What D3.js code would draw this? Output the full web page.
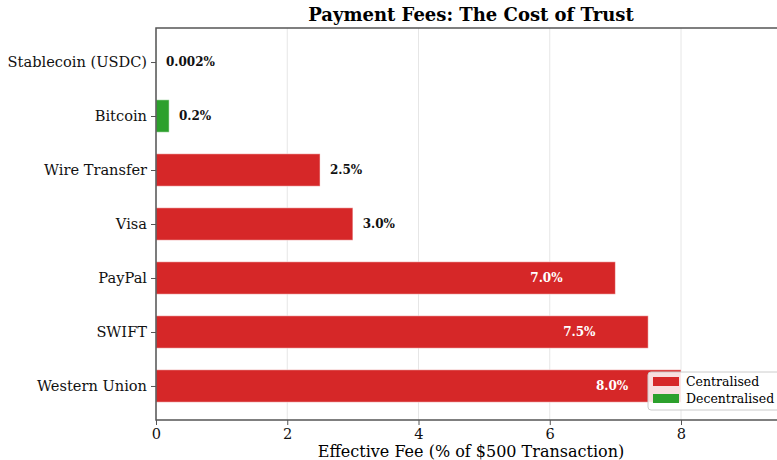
<!DOCTYPE html>
<meta charset="utf-8">
<style>
body { margin: 0; background: #fff; }
svg { font-family: "DejaVu Serif", serif; display: block; }
.grid line { stroke: #e6e6e6; stroke-width: 1; }
.axis path, .axis line { stroke: #555; }
.axis text { fill: #111; font-size: 14.6px; font-family: "DejaVu Serif", serif; }
</style>
<body>
<script src="https://cdn.jsdelivr.net/npm/d3@7"></script>
<script>

var methods = ["Stablecoin (USDC)", "Bitcoin", "Wire Transfer", "Visa", "PayPal", "SWIFT", "Western Union"];
var fees = [0.002, 0.2, 2.5, 3.0, 7.0, 7.5, 8.0];
var feeLabels = ["0.002%", "0.2%", "2.5%", "3.0%", "7.0%", "7.5%", "8.0%"];
var kinds = ["Decentralised", "Decentralised", "Centralised", "Centralised", "Centralised", "Centralised", "Centralised"];
var xTicks = [0, 2, 4, 6, 8];

var colors = { "Centralised": "#d62728", "Decentralised": "#2ca02c" };

var W = 777, H = 460;
var margin = {top: 28, left: 156, bottom: 40};
var plotRight = 786;   // axes run a little past the window edge
var plotBottom = H - margin.bottom;

var svg = d3.select("body").append("svg")
    .attr("width", W)
    .attr("height", H);

var x = d3.scaleLinear()
    .domain([0, 9.6])
    .range([margin.left, plotRight]);

// index 0 at top, like an inverted matplotlib axis
var y = d3.scaleLinear()
    .domain([-0.63, methods.length - 1 + 0.63])
    .range([margin.top, plotBottom]);

var barH = y(0.3) - y(-0.3);

// grid
svg.append("g")
    .attr("class", "grid")
  .selectAll("line")
    .data(xTicks)
  .enter().append("line")
    .attr("x1", function(d) { return x(d); })
    .attr("x2", function(d) { return x(d); })
    .attr("y1", margin.top)
    .attr("y2", plotBottom);

// bars
svg.selectAll(".bar")
    .data(fees)
  .enter().append("rect")
    .attr("class", "bar")
    .attr("x", x(0))
    .attr("y", function(d, i) { return y(i) - barH / 2; })
    .attr("width", function(d) { return x(d) - x(0); })
    .attr("height", barH)
    .attr("fill", function(d, i) { return colors[kinds[i]]; })
    .attr("stroke", "#fff")
    .attr("stroke-opacity", 0.5)
    .attr("stroke-width", 1);

// value labels
svg.selectAll(".val")
    .data(fees)
  .enter().append("text")
    .attr("class", "val")
    .attr("x", function(d) { return d > 5 ? x(d - 1.05) : x(d + 0.15); })
    .attr("y", function(d, i) { return y(i); })
    .attr("dy", "0.35em")
    .attr("text-anchor", function(d) { return d > 5 ? "middle" : "start"; })
    .style("font-size", "12px")
    .style("font-weight", "bold")
    .attr("fill", function(d) { return d > 5 ? "#fff" : "#111"; })
    .text(function(d, i) { return feeLabels[i]; });

// axes
var xAxis = svg.append("g")
    .attr("class", "axis")
    .attr("transform", "translate(0," + plotBottom + ")")
    .call(d3.axisBottom(x).tickValues(xTicks).tickSize(5).tickPadding(4).tickFormat(d3.format("d")));
xAxis.select(".domain").remove();

var yAxis = svg.append("g")
    .attr("class", "axis")
    .attr("transform", "translate(" + margin.left + ",0)")
    .call(d3.axisLeft(y).tickValues(d3.range(methods.length)).tickSize(5).tickPadding(4)
      .tickFormat(function(i) { return methods[i]; }));
yAxis.select(".domain").remove();
svg.selectAll(".axis").attr("font-family", null).attr("font-size", null);

// frame
svg.append("rect")
    .attr("x", margin.left)
    .attr("y", margin.top)
    .attr("width", plotRight - margin.left)
    .attr("height", plotBottom - margin.top)
    .attr("fill", "none")
    .attr("stroke", "#555")
    .attr("stroke-width", 1.5);

// title + x label
svg.append("text")
    .attr("x", (margin.left + plotRight) / 2)
    .attr("y", 21)
    .attr("text-anchor", "middle")
    .style("font-size", "18px")
    .style("font-weight", "bold")
    .text("Payment Fees: The Cost of Trust");

svg.append("text")
    .attr("x", (margin.left + plotRight) / 2)
    .attr("y", 457)
    .attr("text-anchor", "middle")
    .style("font-size", "16px")
    .text("Effective Fee (% of $500 Transaction)");

// legend
var legendKeys = ["Centralised", "Decentralised"];
var lg = svg.append("g").attr("transform", "translate(648,372)");
lg.append("rect")
    .attr("width", 140).attr("height", 38)
    .attr("rx", 3)
    .attr("fill", "#fff").attr("fill-opacity", 0.85)
    .attr("stroke", "#ccc");
lg.selectAll(".key")
    .data(legendKeys)
  .enter().append("rect")
    .attr("x", 5)
    .attr("y", function(d, i) { return 5 + i * 17; })
    .attr("width", 26).attr("height", 9)
    .attr("fill", function(d) { return colors[d]; });
lg.selectAll(".lt")
    .data(legendKeys)
  .enter().append("text")
    .attr("x", 38)
    .attr("y", function(d, i) { return 10 + i * 17; })
    .attr("dy", "0.35em")
    .style("font-size", "12.5px")
    .text(function(d) { return d; });

</script>
</body>
